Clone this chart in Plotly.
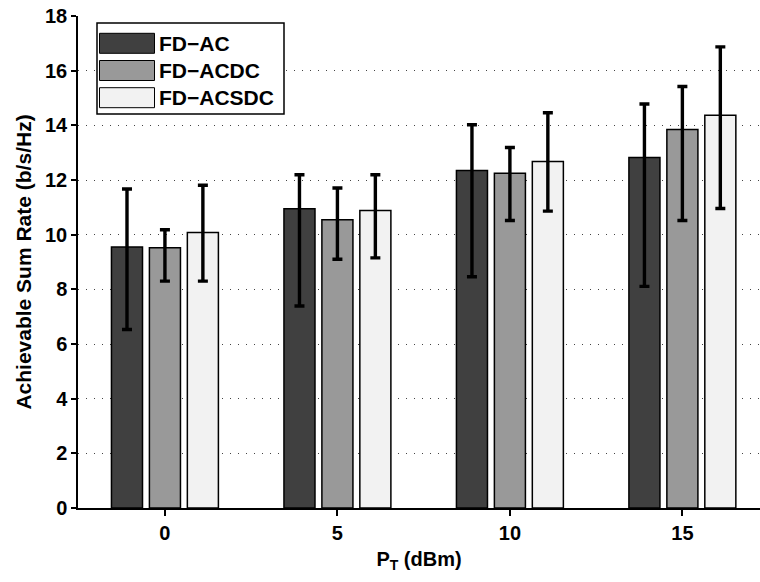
import plotly.graph_objects as go

# ---- data ----
pt_dbm = [0, 5, 10, 15]
series_names = ["FD\u2212AC", "FD\u2212ACDC", "FD\u2212ACSDC"]
fd_ac = [9.55, 10.95, 12.35, 12.82]
fd_acdc = [9.52, 10.55, 12.25, 13.85]
fd_acsdc = [10.08, 10.88, 12.68, 14.37]
fd_ac_hi = [11.67, 12.19, 14.02, 14.78]
fd_ac_lo = [6.53, 7.39, 8.46, 8.11]
fd_acdc_hi = [10.18, 11.71, 13.19, 15.42]
fd_acdc_lo = [8.30, 9.10, 10.52, 10.52]
fd_acsdc_hi = [11.81, 12.19, 14.46, 16.87]
fd_acsdc_lo = [8.30, 9.15, 10.86, 10.96]
y_ticks = [0, 2, 4, 6, 8, 10, 12, 14, 16, 18]

# ---- styling ----
colors = ["#404040", "#999999", "#f2f2f2"]
FONT = "Liberation Sans, Arial, Helvetica, sans-serif"
W, H = 760, 582
ML, MR, MT, MB = 78, 0, 16, 74
PW, PH = W - ML - MR, H - MT - MB
bar_w = 0.9
offsets = [-1.55, -0.45, 0.65]

means = [fd_ac, fd_acdc, fd_acsdc]
his = [fd_ac_hi, fd_acdc_hi, fd_acsdc_hi]
los = [fd_ac_lo, fd_acdc_lo, fd_acsdc_lo]

fig = go.Figure()
for name, m, hi, lo, c, off in zip(series_names, means, his, los, colors, offsets):
    fig.add_trace(go.Bar(
        x=pt_dbm, y=m, name=name, width=bar_w, offset=off,
        marker=dict(color=c, line=dict(color="black", width=1.5)),
        error_y=dict(type="data", symmetric=False,
                     array=[h - v for h, v in zip(hi, m)],
                     arrayminus=[v - l for v, l in zip(m, lo)],
                     color="black", thickness=3.4, width=5),
        showlegend=False,
    ))

# convert page pixel positions to paper coordinates
def px_x(p):
    return (p - ML) / PW

def px_y(p):
    return (H - MB - p) / PH

shapes = []
annotations = []
# legend box
shapes.append(dict(type="rect", xref="paper", yref="paper",
                   x0=px_x(97), x1=px_x(284), y0=px_y(114), y1=px_y(23),
                   line=dict(color="black", width=1.5), fillcolor="white", layer="above"))
for i, (name, c) in enumerate(zip(series_names, colors)):
    top = 33.3 + i * 27.2
    shapes.append(dict(type="rect", xref="paper", yref="paper",
                       x0=px_x(99.5), x1=px_x(154.5), y0=px_y(top + 20), y1=px_y(top),
                       line=dict(color="black", width=1), fillcolor=c, layer="above"))
    annotations.append(dict(xref="paper", yref="paper", x=px_x(157), y=px_y(top + 10),
                            text="<b>%s</b>" % name, showarrow=False,
                            xanchor="left", yanchor="middle",
                            font=dict(family=FONT, size=21, color="black")))

fig.update_layout(
    width=W, height=H,
    margin=dict(l=ML, r=MR, t=MT, b=MB, autoexpand=False),
    paper_bgcolor="white", plot_bgcolor="white",
    font=dict(family=FONT, size=20, color="black"),
    barmode="overlay",
    shapes=shapes, annotations=annotations,
    xaxis=dict(
        range=[-2.52, 17.25], tickmode="array", tickvals=pt_dbm,
        ticktext=["<b>%d</b>" % v for v in pt_dbm],
        showgrid=False, zeroline=False,
        showline=True, linecolor="black", linewidth=1.5,
        ticks="outside", ticklen=6, tickwidth=1.5, tickcolor="black",
        ticklabeloverflow="allow",
        title=dict(text="<b>P<sub>T</sub> (dBm)</b>", font=dict(size=20), standoff=9),
        automargin=False,
    ),
    yaxis=dict(
        range=[0, 18], tickmode="array", tickvals=y_ticks,
        ticktext=["<b>%d</b>" % v for v in y_ticks],
        showgrid=True, gridcolor="#444444", gridwidth=1, griddash="1px,7px",
        zeroline=False,
        showline=True, linecolor="black", linewidth=1.5,
        ticks="outside", ticklen=5, tickwidth=1.5, tickcolor="black",
        ticklabeloverflow="allow",
        title=dict(text="<b>Achievable Sum Rate (b/s/Hz)</b>", font=dict(size=21), standoff=8),
        automargin=False,
    ),
)

fig.write_html("out.html",
               config={"displayModeBar": False},
               post_script="document.body.style.margin='0';document.body.style.overflow='hidden';")
